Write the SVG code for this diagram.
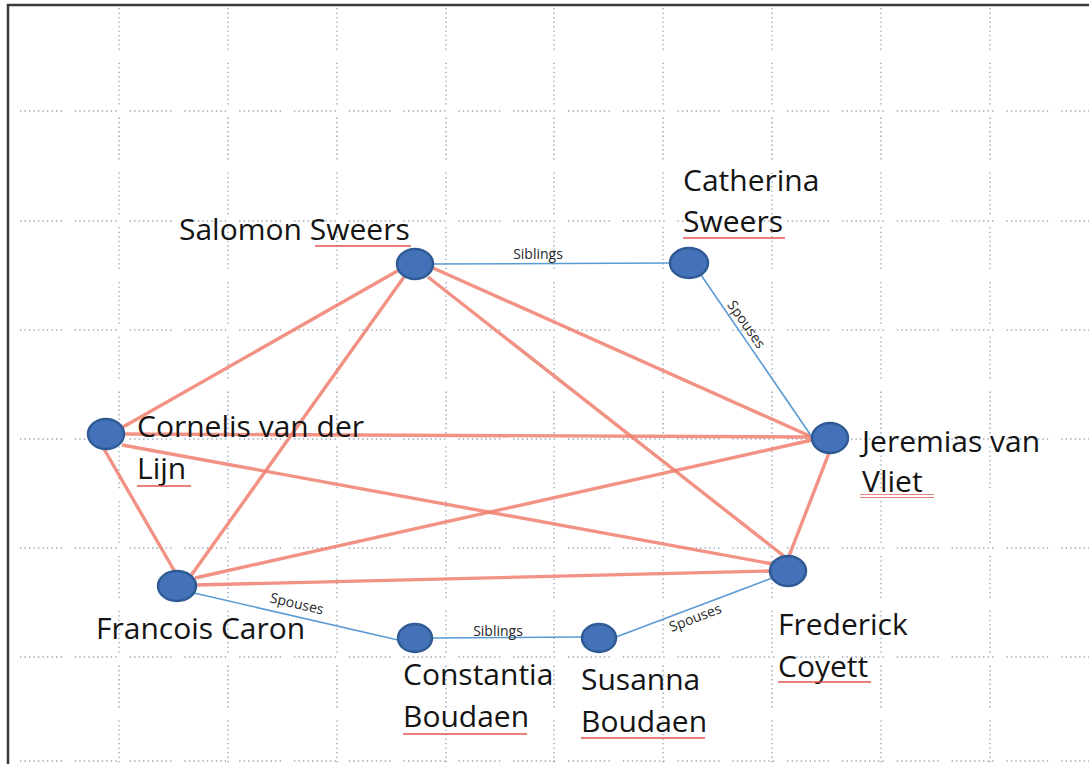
<svg xmlns="http://www.w3.org/2000/svg" width="1089" height="764" viewBox="0 0 1089 764">
<style>
.grid line{stroke:#7d8ea4;stroke-width:1.4;stroke-dasharray:1.3 3.2 1.3 3.2 1.3 3.2 1.3 3.2 1.3 3.2 1.3 3.2 1.3 3.2 1.3 3.2 1.3 3.2 1.3 13;opacity:.8}
.red{stroke:#f0806f;stroke-width:3.4;fill:none;opacity:.85;marker-end:url(#ah)}
.blue{stroke:#5b9bd5;stroke-width:1.6;fill:none}
.node ellipse{fill:#4472b8;stroke:#2f5a94;stroke-width:2.5}
.lbl{font-family:"Open Sans","Liberation Sans",sans-serif;font-size:30px;fill:#141414}
.elbl{font-family:"Open Sans","Liberation Sans",sans-serif;font-size:14px;fill:#262626}
.wave{fill:url(#wv)}
</style>
<defs>
<marker id="ah" viewBox="0 0 10 10" refX="9" refY="5" markerWidth="6" markerHeight="6" markerUnits="userSpaceOnUse" orient="auto"><path d="M0,1.5 L10,5 L0,8.5 z" fill="#f0806f"/></marker>
<pattern id="wv" width="4" height="4" patternUnits="userSpaceOnUse"><path d="M0,3 L1,1 L2,3 L3,1 L4,3" fill="none" stroke="#e0504a" stroke-width="0.9"/></pattern>
</defs>
<rect width="1089" height="764" fill="#fff"/>
<g class="grid">
<line x1="119" y1="8" x2="119" y2="764"/>
<line x1="228" y1="8" x2="228" y2="764"/>
<line x1="337" y1="8" x2="337" y2="764"/>
<line x1="446" y1="8" x2="446" y2="764"/>
<line x1="554" y1="8" x2="554" y2="764"/>
<line x1="663" y1="8" x2="663" y2="764"/>
<line x1="772" y1="8" x2="772" y2="764"/>
<line x1="881" y1="8" x2="881" y2="764"/>
<line x1="990" y1="8" x2="990" y2="764"/>
<line x1="20" y1="111" x2="1089" y2="111"/>
<line x1="20" y1="221" x2="1089" y2="221"/>
<line x1="20" y1="330" x2="1089" y2="330"/>
<line x1="20" y1="439" x2="1089" y2="439"/>
<line x1="20" y1="548" x2="1089" y2="548"/>
<line x1="20" y1="657" x2="1089" y2="657"/>
<line x1="20" y1="761" x2="1089" y2="761"/>
</g>
<path d="M8,764 L8,5 L1089,5" fill="none" stroke="#3a3a3a" stroke-width="2.5"/>
<g id="connectors">
<line class="red" x1="399" y1="270" x2="123" y2="427"/>
<line class="red" x1="404" y1="277" x2="190" y2="577"/>
<line class="red" x1="433" y1="268" x2="812" y2="437"/>
<line class="red" x1="428" y1="277" x2="785" y2="557"/>
<line class="red" x1="124" y1="434" x2="812" y2="437"/>
<line class="red" x1="122" y1="445" x2="773" y2="564"/>
<line class="red" x1="104" y1="449" x2="175" y2="572"/>
<line class="red" x1="195" y1="578" x2="812" y2="440"/>
<line class="red" x1="196" y1="585" x2="771" y2="571"/>
<line class="red" x1="829" y1="453" x2="789" y2="556"/>
<line class="blue" x1="433" y1="264" x2="670" y2="263"/>
<line class="blue" x1="701" y1="275" x2="812" y2="437"/>
<line class="blue" x1="194" y1="593" x2="398" y2="640"/>
<line class="blue" x1="432" y1="638" x2="582" y2="637"/>
<line class="blue" x1="616" y1="637" x2="772" y2="578"/>
<text class="elbl" x="538" y="259" text-anchor="middle">Siblings</text>
<text class="elbl" x="498" y="636" text-anchor="middle">Siblings</text>
<text class="elbl" text-anchor="middle" dominant-baseline="central" transform="translate(747,324) rotate(55)">Spouses</text>
<text class="elbl" text-anchor="middle" dominant-baseline="central" transform="translate(297,603) rotate(13)">Spouses</text>
<text class="elbl" text-anchor="middle" dominant-baseline="central" transform="translate(695,617) rotate(-21)">Spouses</text>
</g>
<g id="salomon" class="node"><ellipse cx="415" cy="264" rx="18" ry="15"/><text class="lbl" x="179" y="240">Salomon Sweers</text><rect class="wave" x="315" y="244" width="96" height="4"/></g>
<g id="catherina" class="node"><ellipse cx="689" cy="263" rx="19" ry="15"/><text class="lbl" x="683" y="191">Catherina</text><text class="lbl" x="683" y="232">Sweers</text><rect class="wave" x="683" y="235" width="102" height="4"/></g>
<g id="cornelis" class="node"><ellipse cx="106" cy="434" rx="18" ry="15"/><text class="lbl" x="137" y="437">Cornelis van der</text><text class="lbl" x="137" y="479">Lijn</text><rect class="wave" x="137" y="483" width="54" height="4"/></g>
<g id="jeremias" class="node"><ellipse cx="830" cy="438" rx="18" ry="15"/><text class="lbl" x="862" y="452">Jeremias van</text><text class="lbl" x="862" y="492">Vliet</text><rect class="wave" x="860" y="494" width="74" height="4"/></g>
<g id="francois" class="node"><ellipse cx="177" cy="586" rx="19" ry="15"/><text class="lbl" x="96" y="639">Francois Caron</text></g>
<g id="frederick" class="node"><ellipse cx="788" cy="571" rx="18" ry="15"/><text class="lbl" x="778" y="635">Frederick</text><text class="lbl" x="778" y="677">Coyett</text><rect class="wave" x="778" y="680" width="93" height="4"/></g>
<g id="constantia" class="node"><ellipse cx="415" cy="638" rx="17" ry="14"/><text class="lbl" x="403" y="685">Constantia</text><text class="lbl" x="403" y="727">Boudaen</text><rect class="wave" x="403" y="731" width="124" height="4"/></g>
<g id="susanna" class="node"><ellipse cx="599" cy="638" rx="17" ry="14"/><text class="lbl" x="581" y="690">Susanna</text><text class="lbl" x="581" y="732">Boudaen</text><rect class="wave" x="581" y="736" width="124" height="4"/></g>
</svg>
